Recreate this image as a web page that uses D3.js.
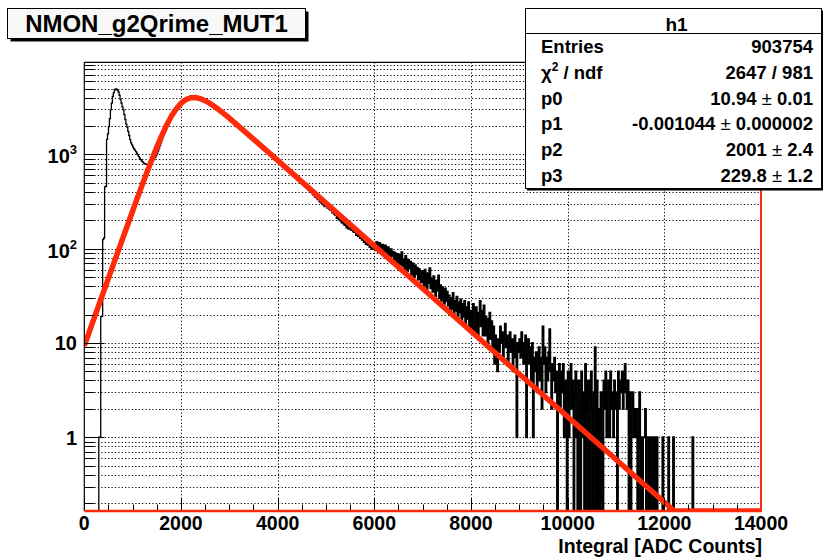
<!DOCTYPE html>
<html><head><meta charset="utf-8">
<script src="https://cdn.jsdelivr.net/npm/d3@7"></script>
<style>
body{margin:0;background:#fff}
text{font-family:"Liberation Sans",Arial,Helvetica,sans-serif;font-weight:bold;fill:#000}
</style>
</head><body>
<svg id="c" width="827" height="558"></svg>
<script>
// ---------------- data ----------------
const binStart = 0;
const binWidth = 20;
// histogram counts, one value per 20-ADC bin (25 bins per row = 500 ADC)
const counts = [
0,0,0,0,0,0,0,0,0,0,0,0,0,0,0,1,1,19,19,125,130,452,460,1445,1650,
1980,2400,2970,3500,4120,4500,4860,4950,4930,4800,4600,4250,3850,3500,3200,2970,2650,2350,2100,1950,1760,1590,1440,1330,1260,
1200,1150,1110,1070,1030,990,950,915,880,855,835,815,800,790,785,783,785,790,800,815,840,870,900,935,975,
1020,1090,1170,1250,1340,1430,1540,1640,1750,1860,1990,2090,2200,2300,2420,2520,2630,2720,2830,2930,3030,3120,3220,3300,3400,
3470,3540,3610,3690,3730,3800,3850,3900,3930,3970,3990,4010,4000,4030,4010,4020,3990,4000,3960,3950,3910,3880,3850,3800,3770,
3730,3680,3640,3570,3530,3470,3430,3370,3320,3260,3210,3160,3100,3050,2990,2940,2890,2830,2790,2720,2680,2630,2570,2530,2470,
2430,2370,2340,2280,2250,2190,2160,2100,2070,2020,1990,1940,1910,1860,1830,1790,1760,1710,1690,1640,1620,1580,1550,1510,1490,
1440,1400,1390,1340,1320,1290,1270,1230,1220,1180,1160,1140,1100,1090,1050,1040,1010,990,960,950,920,900,880,870,845,
835,812,795,790,755,752,722,726,690,695,662,664,636,632,612,600,588,576,562,548,542,522,524,498,496,
488,472,476,448,447,438,422,426,398,397,388,372,376,352,352,344,331,336,314,312,303,296,291,279,286,
290,270,280,262,255,262,240,245,232,228,230,212,218,205,200,206,190,192,185,178,182,168,172,163,165,
170,158,168,152,150,156,140,147,136,140,130,135,124,128,118,123,112,118,110,113,104,110,100,106,99,
112,96,118,101,92,115,106,88,110,95,86,108,97,82,104,90,79,99,84,93,75,91,80,70,88,
86,68,80,92,66,77,61,84,69,58,76,62,73,53,70,61,50,67,54,63,47,61,50,44,58,
56,41,60,47,37,55,43,62,38,48,35,51,40,31,46,36,52,30,41,28,39,33,26,38,28,
35,25,32,21,30,23,34,19,28,22,31,18,27,21,29,16,26,19,28,15,24,18,27,14,22,
22,14,26,17,13,24,16,11,21,28,15,22,12,25,12,19,14,9,18,21,11,17,9,15,6,
12,9,5,11,8,15,10,13,7,11,16,9,12,6,10,13,8,11,5,9,12,7,1,10,8,
11,7,13,9,6,10,12,1,8,11,6,9,4,10,1,7,5,8,3,6,9,4,7,2,15,
6,9,3,7,4,8,14,5,2,6,4,7,3,5,0,4,6,2,5,3,6,1,4,2,0,
5,1,3,6,2,4,0,3,5,1,0,4,2,0,5,1,3,0,6,2,0,4,1,0,5,
2,0,3,9,0,4,0,2,0,3,1,0,4,2,5,1,3,4,1,5,2,3,1,4,2,
3,0,5,2,4,3,5,2,4,6,3,2,4,0,3,0,2,3,1,2,1,2,0,1,3,
0,1,0,1,1,2,0,1,1,0,1,0,1,1,0,1,0,1,0,0,0,0,0,1,0,
0,0,0,0,1,0,0,0,0,1,0,0,0,0,0,0,0,0,0,0,0,0,0,0,0,
0,0,0,0,1,0,0,0,0,0,0,0,0,0,0,0,0,0,0,0,0,0,0,0,0,
0,0,0,0,0,0,0,0,0,0,0,0,0,0,0,0,0,0,0,0,0,0,0,0,0,
0,0,0,0,0,0,0,0,0,0,0,0,0,0,0,0,0,0,0,0,0,0,0,0,0
];
// fitted curve, sampled
const fitX = [0,200,400,600,800,1000,1100,1200,1300,1400,1500,1600,1700,1800,1900,2000,2100,2200,2300,2400,2500,2600,2700,2800,2900,3000,3500,4000,5000,6000,7000,8000,9000,10000,11000,12000,12200,13000,14000];
const fitY = [9.32,18.1,35.0,67.7,130.7,251,348,479,656,891,1196,1577,2032,2538,3039,3486,3815,3992,4016,3913,3719,3478,3211,2940,2677,2428,1457,866,305,107.3,37.8,13.3,4.68,1.65,0.58,0.204,0.166,0.072,0.0254];

const xTickValues = [0,2000,4000,6000,8000,10000,12000,14000];
const xTickLabels = ["0","2000","4000","6000","8000","10000","12000","14000"];
const yTickValues = [1,10,100,1000];
const yTickBase = ["1","10","10","10"];
const yTickExp = ["","","2","3"];

const titleText = "NMON_g2Qrime_MUT1";
const xAxisTitle = "Integral [ADC Counts]";
const statsTitle = "h1";
const statLabels = ["Entries","χ|2| / ndf","p0","p1","p2","p3"];
const statValues = ["903754","2647 / 981","10.94 ± 0.01","-0.001044 ± 0.000002","2001 ± 2.4","229.8 ± 1.2"];

// ---------------- layout ----------------
const X0 = 84.3, X1 = 761, Y0 = 62.3, Y1 = 511;
const yMin = 0.165, yMax = 9500;
const RED = "#ff2a0a";

const svg = d3.select("#c");
const x = d3.scaleLinear().domain([0,14000]).range([X0,X1]);
const y = d3.scaleLog().domain([yMin,yMax]).range([Y1,Y0]);

svg.append("rect").attr("width",827).attr("height",558).attr("fill","#fff");

svg.append("defs").append("clipPath").attr("id","pc")
  .append("rect").attr("x",X0).attr("y",Y0).attr("width",X1-X0).attr("height",Y1-Y0);

// grid
const grid = svg.append("g").attr("stroke","#000").attr("stroke-width",1)
  .attr("stroke-dasharray","1.2,2.2");
y.ticks().filter(v=>v>yMin && v<yMax).forEach(v=>{
  const yy = Math.round(y(v))+0.5;
  grid.append("line").attr("x1",X0).attr("x2",X1).attr("y1",yy).attr("y2",yy);
});
xTickValues.filter(v=>v>0 && v<14000).forEach(v=>{
  const xx = Math.round(x(v))+0.5;
  grid.append("line").attr("x1",xx).attr("x2",xx).attr("y1",Y0).attr("y2",Y1);
});

const plot = svg.append("g").attr("clip-path","url(#pc)");

// histogram as steps (the dense noisy tail is drawn with a heavier pen)
const line = d3.line().x(d=>x(d[0])).y(d=>y(Math.max(d[1],yMin)));
function stepPoints(i0, i1) {
  const p = [];
  if (i0 === 0) p.push([binStart, yMin]);
  for (let i = i0; i < i1; i++) {
    const lo = binStart + i*binWidth, hi = lo + binWidth;
    const v = counts[i] > 0 ? counts[i] : yMin;
    p.push([lo, v]); p.push([hi, v]);
  }
  if (i1 === counts.length) p.push([binStart + counts.length*binWidth, yMin]);
  return p;
}
const split = 260;
plot.append("path").attr("d",line(stepPoints(0, split+1))).attr("fill","none")
  .attr("stroke","#000").attr("stroke-width",1.3);
plot.append("path").attr("d",line(stepPoints(split, counts.length))).attr("fill","none")
  .attr("stroke","#000").attr("stroke-width",1.9);

// fit
const fitPts = fitX.map((v,i)=>[v,fitY[i]]);
plot.append("path").attr("d",line(fitPts)).attr("fill","none")
  .attr("stroke",RED).attr("stroke-width",5.5).attr("stroke-linejoin","round");

// ticks
const tk = svg.append("g").attr("stroke","#000").attr("stroke-width",1);
y.ticks().filter(v=>v>yMin && v<yMax).forEach(v=>{
  const major = Math.abs(Math.log10(v)-Math.round(Math.log10(v)))<1e-9;
  const yy = Math.round(y(v))+0.5;
  tk.append("line").attr("x1",X0).attr("x2",X0+(major?20:10)).attr("y1",yy).attr("y2",yy);
});
d3.range(0,14001,500).forEach(v=>{
  const major = v%2000===0;
  const xx = Math.round(x(v))+0.5;
  tk.append("line").attr("x1",xx).attr("x2",xx).attr("y1",Y1).attr("y2",Y1-(major?13:6.5));
});

// frame
svg.append("line").attr("x1",X0).attr("x2",X0).attr("y1",Y0).attr("y2",Y1).attr("stroke","#000").attr("stroke-width",1.2);
svg.append("line").attr("x1",X0).attr("x2",X1).attr("y1",Y0).attr("y2",Y0).attr("stroke","#000").attr("stroke-width",1.2);
svg.append("line").attr("x1",X0).attr("x2",X1+1).attr("y1",Y1).attr("y2",Y1).attr("stroke",RED).attr("stroke-width",2.5);
svg.append("line").attr("x1",X1).attr("x2",X1).attr("y1",Y0).attr("y2",Y1).attr("stroke",RED).attr("stroke-width",2);

// axis labels
xTickValues.forEach((v,i)=>{
  svg.append("text").attr("x",x(v)).attr("y",530).attr("text-anchor","middle")
    .attr("font-size",19.5).text(xTickLabels[i]);
});
yTickValues.forEach((v,i)=>{
  const t = svg.append("text").attr("x",77).attr("text-anchor","end").attr("font-size",20);
  if (yTickExp[i]) {
    t.attr("y",y(v)+9);
    t.append("tspan").text(yTickBase[i]);
    t.append("tspan").attr("font-size",13).attr("dy",-9).text(yTickExp[i]);
  } else {
    t.attr("y",y(v)+7.5).text(yTickBase[i]);
  }
});
svg.append("text").attr("x",762).attr("y",553).attr("text-anchor","end")
  .attr("font-size",19.5).text(xAxisTitle);

// title box
svg.append("rect").attr("x",10.5).attr("y",11.5).attr("width",298).attr("height",30).attr("fill","#000");
svg.append("rect").attr("x",7.5).attr("y",8.5).attr("width",298).attr("height",30)
  .attr("fill","#f8f8f8").attr("stroke","#000").attr("stroke-width",1);
svg.append("text").attr("x",156.5).attr("y",32).attr("text-anchor","middle")
  .attr("font-size",24).text(titleText);

// stats box
const SX = 525.5, SY = 8.5, SW = 296, SH = 180;
svg.append("rect").attr("x",SX+1.5).attr("y",SY+2).attr("width",SW).attr("height",SH).attr("fill","#000");
svg.append("rect").attr("x",SX).attr("y",SY).attr("width",SW).attr("height",SH)
  .attr("fill","#fff").attr("stroke","#000").attr("stroke-width",1);
svg.append("line").attr("x1",SX).attr("x2",SX+SW).attr("y1",33.5).attr("y2",33.5).attr("stroke","#000");
svg.append("text").attr("x",SX+SW/2+3).attr("y",31).attr("text-anchor","middle")
  .attr("font-size",19).text(statsTitle);
const rowH = (SY+SH-33.5)/6;
statLabels.forEach((lab,i)=>{
  const by = 33.5 + rowH*(i+0.5) + 6.5;
  const t = svg.append("text").attr("x",541).attr("y",by).attr("font-size",18.5);
  const parts = lab.split("|");
  t.append("tspan").text(parts[0]);
  if (parts.length>1) {
    t.append("tspan").attr("font-size",12).attr("dy",-8).text(parts[1]);
    t.append("tspan").attr("dy",8).text(parts[2]);
  }
  const v = svg.append("text").attr("x",813).attr("y",by).attr("text-anchor","end").attr("font-size",18.5);
  const vp = statValues[i].split("±");
  v.append("tspan").text(vp[0]);
  if (vp.length>1) {
    v.append("tspan").attr("font-weight","normal").text("±");
    v.append("tspan").text(vp[1]);
  }
});
</script>
</body></html>
